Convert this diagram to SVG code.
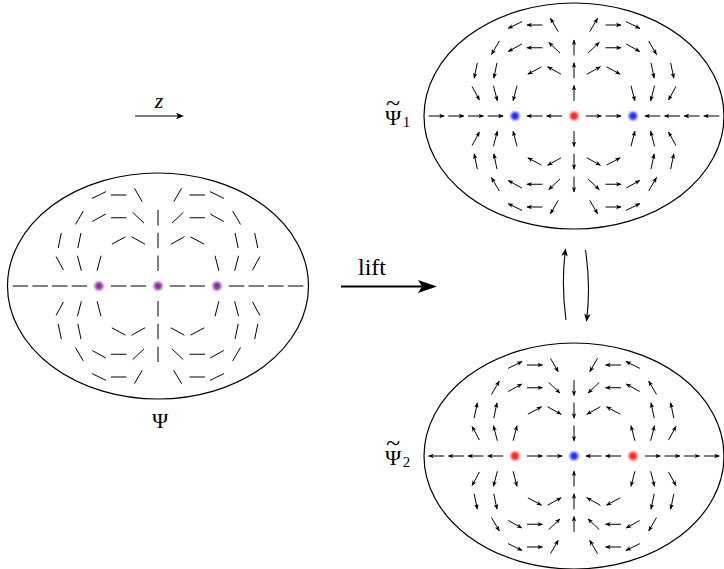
<svg xmlns="http://www.w3.org/2000/svg" width="724" height="569" viewBox="0 0 724 569">
<style>
.ell{fill:none;stroke:#000;stroke-width:1.2}
.t{font-family:"Liberation Serif","DejaVu Serif",serif;fill:#000}
.conn{fill:none;stroke:#000}
</style>
<defs>
<marker id="ah" viewBox="0 0 10 10" markerUnits="userSpaceOnUse" markerWidth="5.5" markerHeight="5.5" refX="9" refY="5" orient="auto-start-reverse">
<path d="M0,1 L10,5 L0,9 L2.5,5 z" fill="#000"/>
</marker>
<marker id="ahb" viewBox="0 0 10 10" markerUnits="userSpaceOnUse" markerWidth="8" markerHeight="8" refX="9" refY="5" orient="auto">
<path d="M0,1 L10,5 L0,9 L2.5,5 z" fill="#000"/>
</marker>
<radialGradient id="gp"><stop offset="0" stop-color="#7a1a8c"/><stop offset="0.45" stop-color="#9a3aae" stop-opacity="0.9"/><stop offset="1" stop-color="#c8a0d8" stop-opacity="0"/></radialGradient>
<radialGradient id="gr"><stop offset="0" stop-color="#ff1010"/><stop offset="0.45" stop-color="#ff3030" stop-opacity="0.9"/><stop offset="1" stop-color="#ffa0a0" stop-opacity="0"/></radialGradient>
<radialGradient id="gb"><stop offset="0" stop-color="#1010ff"/><stop offset="0.45" stop-color="#3040ff" stop-opacity="0.9"/><stop offset="1" stop-color="#a0a8ff" stop-opacity="0"/></radialGradient>
<g id="q" stroke="#000" stroke-width="1">
<line x1="-51.99" y1="-94.40" x2="-65.91" y2="-87.60"/>
<line x1="-31.55" y1="-91" x2="-47.05" y2="-91"/>
<line x1="-15.75" y1="-84.30" x2="-23.55" y2="-97.70"/>
<line x1="-74.69" y1="-74.94" x2="-82.51" y2="-61.56"/>
<line x1="-52.18" y1="-72.01" x2="-65.72" y2="-64.49"/>
<line x1="-31.55" y1="-68.25" x2="-47.05" y2="-68.25"/>
<line x1="-14.01" y1="-62.93" x2="-25.29" y2="-73.57"/>
<line x1="-96.67" y1="-53.09" x2="-99.83" y2="-37.91"/>
<line x1="-77.02" y1="-53.09" x2="-80.18" y2="-37.91"/>
<line x1="-32.46" y1="-49.16" x2="-46.14" y2="-41.84"/>
<line x1="-12.88" y1="-41.72" x2="-26.42" y2="-49.28"/>
<line x1="-101.95" y1="-29.56" x2="-94.55" y2="-15.94"/>
<line x1="-80.55" y1="-30.25" x2="-76.65" y2="-15.25"/>
<line x1="-57.0" y1="-30.25" x2="-60.9" y2="-15.25"/>
</g>
<g id="va" stroke="#000" stroke-width="1">
<line x1="0" y1="-60.5" x2="0" y2="-76"/>
<line x1="0" y1="-37.75" x2="0" y2="-53.25"/>
<line x1="0" y1="-15" x2="0" y2="-30.5"/>
</g>
<g id="ha" stroke="#000" stroke-width="1">
<line x1="-145.3" y1="0" x2="-129.8" y2="0"/>
<line x1="-125.65" y1="0" x2="-110.15" y2="0"/>
<line x1="-106" y1="0" x2="-90.5" y2="0"/>
<line x1="-86.35" y1="0" x2="-70.85" y2="0"/>
<line x1="-31.55" y1="0" x2="-47.05" y2="0"/>
<line x1="-11.9" y1="0" x2="-27.4" y2="0"/>
</g>
</defs>
<rect width="724" height="569" fill="#fff"/>

<g id="psi">
<ellipse class="ell" cx="158" cy="286" rx="150.5" ry="113"/>
<g transform="translate(158,286)">
<use href="#q"/><use href="#q" transform="scale(-1,1)"/><use href="#q" transform="scale(1,-1)"/><use href="#q" transform="scale(-1,-1)"/>
<use href="#va"/><use href="#va" transform="scale(1,-1)"/>
<use href="#ha"/><use href="#ha" transform="scale(-1,1)"/>
</g>
<circle cx="99" cy="286" r="6.5" fill="url(#gp)"/>
<circle cx="158" cy="286" r="6.5" fill="url(#gp)"/>
<circle cx="217" cy="286" r="6.5" fill="url(#gp)"/>
<text class="t" x="160" y="428" font-size="22" text-anchor="middle">Ψ</text>
</g>

<g id="psi1">
<ellipse class="ell" cx="574" cy="116" rx="150" ry="113"/>
<g transform="translate(574,116)" style="marker-end:url(#ah)">
<use href="#q"/><use href="#q" transform="scale(-1,1)"/><use href="#q" transform="scale(1,-1)"/><use href="#q" transform="scale(-1,-1)"/>
<use href="#va"/><use href="#va" transform="scale(1,-1)"/>
<use href="#ha"/><use href="#ha" transform="scale(-1,1)"/>
</g>
<circle cx="515" cy="116" r="6.5" fill="url(#gb)"/>
<circle cx="574" cy="116" r="6.5" fill="url(#gr)"/>
<circle cx="633" cy="116" r="6.5" fill="url(#gb)"/>
<text class="t" x="385" y="125" font-size="22">Ψ<tspan dx="-15.3" dy="-14.5" font-size="26">~</tspan><tspan dx="2.8" dy="16.5" font-size="15">1</tspan></text>
</g>

<g id="psi2">
<ellipse class="ell" cx="574" cy="456" rx="150" ry="113"/>
<g transform="translate(574,456)" style="marker-start:url(#ah)">
<use href="#q"/><use href="#q" transform="scale(-1,1)"/><use href="#q" transform="scale(1,-1)"/><use href="#q" transform="scale(-1,-1)"/>
<use href="#va"/><use href="#va" transform="scale(1,-1)"/>
<use href="#ha"/><use href="#ha" transform="scale(-1,1)"/>
</g>
<circle cx="515" cy="456" r="6.5" fill="url(#gr)"/>
<circle cx="574" cy="456" r="6.5" fill="url(#gb)"/>
<circle cx="633" cy="456" r="6.5" fill="url(#gr)"/>
<text class="t" x="385" y="465" font-size="22">Ψ<tspan dx="-15.3" dy="-14.5" font-size="26">~</tspan><tspan dx="2.8" dy="16.5" font-size="15">2</tspan></text>
</g>

<g id="connectors">
<line class="conn" x1="135" y1="116" x2="178" y2="116" stroke-width="1"/>
<path d="M184,116 L176,112.8 L178,116 L176,119.2 Z" fill="#000"/>
<text class="t" x="159" y="108" font-size="22" font-style="italic" text-anchor="middle">z</text>
<line class="conn" x1="341" y1="286.5" x2="424" y2="286.5" stroke-width="2"/>
<path d="M437,286.5 L418,280 L422,286.5 L418,293 Z" fill="#000"/>
<text class="t" x="358" y="275" font-size="24">lift</text>
<path class="conn" d="M566,320 Q561,284 565.5,249" stroke-width="1.1" marker-end="url(#ahb)"/>
<path class="conn" d="M585.5,250 Q591,287 586.5,321" stroke-width="1.1" marker-end="url(#ahb)"/>
</g>
</svg>
